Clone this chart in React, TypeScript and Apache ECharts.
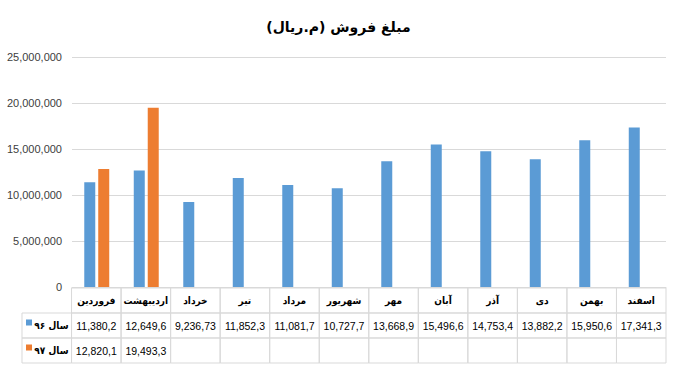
import React, { useEffect, useRef } from "react";
import * as echarts from "echarts";

const title = "مبلغ فروش (م.ریال)";
const categories = ["فروردین", "اردیبهشت", "خرداد", "تیر", "مرداد", "شهریور", "مهر", "آبان", "آذر", "دی", "بهمن", "اسفند"];
const seriesNames = ["سال ۹۶", "سال ۹۷"];
const values96 = [11380200, 12649600, 9236730, 11852300, 11081700, 10727700, 13668900, 15496600, 14753400, 13882200, 15950600, 17341300];
const values97: (number | null)[] = [12820100, 19493300, null, null, null, null, null, null, null, null, null, null];
const colors = ["#5B9BD5", "#ED7D31"];
const yTicks = { min: 0, max: 25000000, interval: 5000000 };

const NUM_FONT = "'Liberation Sans', Arial, sans-serif";
const AR_FONT = "'DejaVu Sans', 'Noto Sans', sans-serif";
const AR_COND = "'DejaVu Sans Condensed', 'DejaVu Sans', sans-serif";

function fmt(v: number) {
  return v.toLocaleString("en-US");
}
function cellLabel(v: number | null) {
  if (v == null) return "";
  return fmt(v).slice(0, 8);
}

type Cell = { text: string; kind: "header" | "legend" | "value" | "empty"; series?: number };

export default function App() {
  const ref = useRef<HTMLDivElement>(null);
  useEffect(() => {
    if (!ref.current) return;
    const chart = echarts.init(ref.current, undefined, { renderer: "svg" });

    const cells: Cell[] = [];
    const cellData: number[][] = [];
    cellData.push([-1, 0]);
    cells.push({ text: "", kind: "empty" });
    categories.forEach((c, i) => {
      cellData.push([i, 0]);
      cells.push({ text: c, kind: "header" });
    });
    const allSeries = [values96, values97];
    allSeries.forEach((vals, s) => {
      cellData.push([-1, s + 1]);
      cells.push({ text: seriesNames[s], kind: "legend", series: s });
      vals.forEach((v, i) => {
        cellData.push([i, s + 1]);
        cells.push({ text: cellLabel(v as number | null), kind: "value" });
      });
    });

    const renderItem = (params: any, api: any) => {
      const col = api.value(0);
      const row = api.value(1);
      const p0 = api.coord([col, row]);
      const p1 = api.coord([col + 1, row + 1]);
      const x = p0[0];
      const y = p0[1];
      const w = p1[0] - p0[0];
      const h = p1[1] - p0[1];
      const cell = cells[params.dataIndex];
      const children: any[] = [];
      if (cell.kind === "empty") return { type: "group", children };
      children.push({
        type: "rect",
        shape: { x, y, width: w, height: h },
        style: { fill: "none", stroke: "#D9D9D9", lineWidth: 1 },
      });
      if (cell.kind === "header") {
        children.push({
          type: "text",
          style: {
            x: x + w / 2,
            y: y + h / 2,
            text: cell.text,
            fill: "#000",
            font: `bold 10px ${AR_COND}`,
            align: "center",
            verticalAlign: "middle",
          },
        });
      } else if (cell.kind === "value") {
        children.push({
          type: "text",
          style: {
            x: x + w / 2,
            y: y + h / 2,
            text: cell.text,
            fill: "#000",
            font: `10.5px ${NUM_FONT}`,
            align: "center",
            verticalAlign: "middle",
          },
        });
      } else if (cell.kind === "legend") {
        children.push({
          type: "rect",
          shape: { x: x + 4, y: y + h / 2 - 6, width: 6, height: 6 },
          style: { fill: colors[cell.series || 0] },
        });
        children.push({
          type: "text",
          style: {
            x: x + w - 3,
            y: y + h / 2,
            text: cell.text,
            fill: "#000",
            font: `bold 10px ${AR_COND}`,
            align: "right",
            verticalAlign: "middle",
          },
        });
      }
      return { type: "group", children };
    };

    chart.setOption({
      animation: false,
      backgroundColor: "#fff",
      title: {
        text: title,
        left: "center",
        top: 15,
        textStyle: { fontFamily: AR_FONT, fontSize: 14, fontWeight: "bold", color: "#000" },
      },
      grid: [
        { left: 72, right: 11, top: 57, height: 230 },
        { left: 22, right: 11, top: 288, height: 75 },
      ],
      xAxis: [
        {
          type: "category",
          gridIndex: 0,
          data: categories,
          axisLine: { show: true, lineStyle: { color: "#D9D9D9" } },
          axisTick: { show: false },
          axisLabel: { show: false },
          splitLine: { show: false },
        },
        { type: "value", gridIndex: 1, min: -1, max: 12, show: false },
      ],
      yAxis: [
        {
          type: "value",
          gridIndex: 0,
          min: yTicks.min,
          max: yTicks.max,
          interval: yTicks.interval,
          axisLine: { show: false },
          axisTick: { show: false },
          axisLabel: {
            margin: 10,
            color: "#404040",
            fontFamily: NUM_FONT,
            fontSize: 11,
            formatter: (v: number) => fmt(v),
          },
          splitLine: { lineStyle: { color: "#D9D9D9" } },
        },
        { type: "value", gridIndex: 1, min: 0, max: 3, inverse: true, show: false },
      ],
      series: [
        {
          name: seriesNames[0],
          type: "bar",
          xAxisIndex: 0,
          yAxisIndex: 0,
          data: values96,
          barWidth: 11,
          barGap: "27%",
          itemStyle: { color: colors[0] },
        },
        {
          name: seriesNames[1],
          type: "bar",
          xAxisIndex: 0,
          yAxisIndex: 0,
          data: values97,
          barWidth: 11,
          itemStyle: { color: colors[1] },
        },
        {
          type: "custom",
          xAxisIndex: 1,
          yAxisIndex: 1,
          data: cellData,
          renderItem,
          silent: true,
        },
      ],
    });
    return () => chart.dispose();
  }, []);
  return (
    <div
      ref={ref}
      style={{ position: "fixed", left: 0, top: 0, width: 677, height: 368 }}
    />
  );
}
